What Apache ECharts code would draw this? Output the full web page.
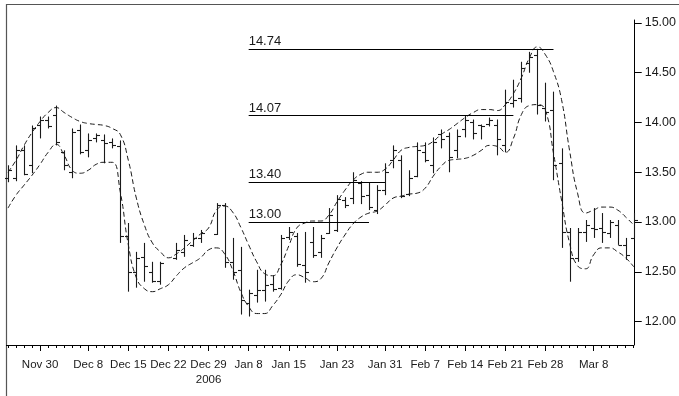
<!DOCTYPE html>
<html><head><meta charset="utf-8">
<script src="https://cdn.jsdelivr.net/npm/echarts@6/dist/echarts.min.js"></script>
<style>html,body{margin:0;padding:0;background:#fff}#c{width:679px;height:396px}</style>
</head><body><div id="c"></div>
<script>
// trading-day slots (79 bars, two holiday gaps)
const dayIndex = Array.from({length: 79}, (_, i) => String(i));
const opens  = [13.44,13.44,13.72,13.57,13.97,14.03,14.08,13.70,13.50,13.92,13.72,13.84,13.82,13.80,13.76,12.86,12.50,12.65,12.50,12.41,null,12.64,12.70,12.77,12.84,null,12.88,13.17,12.60,12.52,12.19,12.27,12.32,12.38,12.34,12.85,12.86,12.57,12.80,12.70,12.89,12.92,13.22,13.24,13.39,13.27,13.12,13.32,13.62,13.62,13.28,13.46,13.70,13.57,13.88,13.86,13.72,13.93,14.01,13.97,13.98,13.97,13.77,14.20,14.25,14.60,14.68,14.15,14.13,13.59,12.90,12.64,12.90,12.94,12.94,12.89,12.97,12.77,12.84];
const highs  = [13.57,13.77,13.77,13.97,14.06,14.06,14.17,13.72,13.94,13.98,13.89,13.89,13.88,13.84,13.82,12.99,12.70,12.79,12.60,12.60,null,12.79,12.87,12.89,12.92,null,13.19,13.19,12.84,12.75,12.32,12.52,12.52,12.46,12.87,12.95,12.89,12.90,12.95,12.87,13.14,13.27,13.25,13.50,13.41,13.40,13.37,13.59,13.77,13.67,13.52,13.80,13.80,13.85,13.93,13.90,13.93,14.07,14.03,13.98,14.05,14.03,14.33,14.43,14.61,14.71,14.74,14.40,14.31,13.74,12.94,12.94,13.02,13.14,13.09,13.02,13.02,12.84,13.09];
const lows   = [13.40,13.41,13.47,13.49,13.84,13.94,13.77,13.52,13.44,13.68,13.65,13.80,13.59,13.74,12.79,12.30,12.34,12.40,12.39,12.37,null,12.62,12.65,12.75,12.79,null,12.87,12.54,12.42,12.07,12.05,12.19,12.20,12.30,12.32,12.82,12.55,12.39,12.64,12.64,12.88,12.90,13.14,13.18,13.18,13.12,13.08,13.27,13.54,13.24,13.26,13.45,13.60,13.49,13.74,13.50,13.64,13.85,13.83,13.83,13.96,13.67,13.70,14.15,14.20,14.50,14.08,14.01,13.42,12.74,12.40,12.60,12.80,12.84,12.79,12.84,12.77,12.62,12.84];
const closes = [13.52,13.72,13.48,13.94,14.03,13.96,13.80,13.57,13.90,13.70,13.82,13.87,13.79,13.77,12.86,12.50,12.64,12.56,12.41,12.59,null,12.72,12.82,12.84,12.89,null,13.17,12.60,12.50,12.22,12.29,12.32,12.37,12.33,12.84,12.90,12.58,12.50,12.67,12.84,13.07,13.23,13.17,13.42,13.26,13.15,13.32,13.50,13.72,13.26,13.44,13.72,13.62,13.80,13.83,13.65,13.86,14.03,13.89,13.96,14.03,13.83,14.21,14.23,14.55,14.66,14.18,14.11,13.57,12.90,12.64,12.90,12.97,12.93,12.90,13.00,12.77,12.67,13.02];
const upperBand = [13.50,13.62,13.77,13.90,14.01,14.10,14.15,14.10,14.05,14.01,13.99,13.98,13.97,13.94,13.88,13.62,13.24,12.97,12.79,12.70,12.64,12.68,12.74,12.81,12.88,12.94,13.12,13.16,13.10,12.95,12.77,12.60,12.48,12.46,12.57,12.76,12.94,12.99,13.01,13.01,13.07,13.20,13.32,13.42,13.48,13.50,13.50,13.53,13.62,13.72,13.75,13.76,13.77,13.81,13.88,13.93,13.99,14.05,14.10,14.13,14.13,14.12,14.18,14.29,14.45,14.65,14.76,14.68,14.51,14.23,13.72,13.29,13.09,13.12,13.15,13.15,13.12,13.05,12.97];
const lowerBand = [13.14,13.27,13.37,13.47,13.58,13.70,13.78,13.67,13.52,13.49,13.52,13.58,13.60,13.60,13.30,12.77,12.44,12.33,12.30,12.33,12.37,12.46,12.54,12.59,12.64,12.72,12.74,12.68,12.52,12.30,12.15,12.08,12.08,12.16,12.27,12.41,12.47,12.44,12.40,12.43,12.59,12.74,12.87,12.98,13.05,13.09,13.11,13.17,13.24,13.26,13.28,13.29,13.34,13.46,13.56,13.62,13.63,13.64,13.67,13.72,13.77,13.76,13.70,13.84,14.08,14.17,14.18,14.12,13.69,13.22,12.79,12.56,12.53,12.67,12.74,12.74,12.70,12.64,12.55];
const levelValues = [14.74, 14.07, 13.40, 13.00];
const levelStart  = [30, 30, 30, 30];
const levelEnd    = [68, 63, 47, 45];
const yTicks = [12.00, 12.50, 13.00, 13.50, 14.00, 14.50, 15.00];
const xLabelIndex = [4, 10, 15, 20, 25, 30, 35, 41, 47, 52, 57, 62, 67, 73];
const xLabelText  = ['Nov 30','Dec 8','Dec 15','Dec 22','Dec 29\n2006','Jan 8','Jan 15','Jan 23','Jan 31','Feb 7','Feb 14','Feb 21','Feb 28','Mar 8'];

const ohlcData = [];
dayIndex.forEach((d, i) => {
  if (opens[i] != null) ohlcData.push([i, opens[i], highs[i], lows[i], closes[i]]);
});

const INK = '#000';
const NARROW = "'Liberation Sans Narrow','Arial Narrow','Liberation Sans',sans-serif";
const SANS = "'Liberation Sans',Arial,Helvetica,sans-serif";

function renderItem(params, api) {
  const i = api.value(0);
  const pO = api.coord([i, api.value(1)]);
  const pH = api.coord([i, api.value(2)]);
  const pL = api.coord([i, api.value(3)]);
  const pC = api.coord([i, api.value(4)]);
  const x = Math.round(pH[0]) + 0.5;
  const yo = Math.round(pO[1]) + 0.5, yc = Math.round(pC[1]) + 0.5;
  const style = { stroke: '#1a1a1a', lineWidth: 1.1 };
  return { type: 'group', children: [
    { type: 'line', shape: { x1: x, y1: pH[1], x2: x, y2: pL[1] }, style },
    { type: 'line', shape: { x1: x - 3.5, y1: yo, x2: x, y2: yo }, style },
    { type: 'line', shape: { x1: x, y1: yc, x2: x + 3.5, y2: yc }, style }
  ]};
}

const chart = echarts.init(document.getElementById('c'), null, { renderer: 'canvas' });
chart.setOption({
  animation: false,
  backgroundColor: '#fff',
  grid: { left: 8, right: 45, top: 20, bottom: 51, containLabel: false },
  xAxis: [{
    type: 'category', data: dayIndex, boundaryGap: false,
    axisLine: { lineStyle: { color: INK, width: 1 } },
    axisTick: { interval: 0, length: 3, lineStyle: { color: INK } },
    axisLabel: {
      interval: (idx) => xLabelIndex.includes(idx),
      formatter: (v, idx) => { const k = xLabelIndex.indexOf(idx); return k >= 0 ? xLabelText[k] : ''; },
      fontSize: 11.5, fontFamily: NARROW, color: '#1a1a1a', margin: 12, lineHeight: 15
    },
    splitLine: { show: false }
  }, {
    type: 'category', data: dayIndex, boundaryGap: false, position: 'bottom',
    axisLine: { show: false },
    axisTick: { interval: (idx) => xLabelIndex.includes(idx), length: 6, lineStyle: { color: INK } },
    axisLabel: { show: false }, splitLine: { show: false }
  }],
  yAxis: {
    type: 'value', position: 'right', min: 11.764, max: 15.03, offset: 1,
    axisLine: { show: true, lineStyle: { color: INK } },
    axisTick: { show: true, length: 7, customValues: yTicks, lineStyle: { color: INK } },
    axisLabel: { customValues: yTicks, formatter: (v) => Number(v).toFixed(2), color: '#1a1a1a', fontSize: 12.5, fontFamily: SANS, margin: 10 },
    splitLine: { show: false }
  },
  graphic: [
    { type: 'line', shape: { x1: 6, y1: 4.5, x2: 679, y2: 4.5 }, style: { stroke: '#555', lineWidth: 1.2 }, silent: true },
    { type: 'line', shape: { x1: 6.5, y1: 4, x2: 6.5, y2: 396 }, style: { stroke: '#555', lineWidth: 1.2 }, silent: true },
    { type: 'line', shape: { x1: 6, y1: 345.5, x2: 9, y2: 345.5 }, style: { stroke: INK, lineWidth: 1 }, silent: true }
  ],
  series: [
    {
      name: 'Upper', type: 'line', data: upperBand, smooth: 0.5, symbol: 'none',
      lineStyle: { color: '#1a1a1a', width: 1, type: [5, 3] }, silent: true,
      markLine: {
        silent: true, symbol: ['none', 'none'], animation: false,
        lineStyle: { color: INK, width: 1, type: 'solid' },
        label: { position: 'insideStartTop', color: '#1a1a1a', fontSize: 13, fontFamily: SANS, distance: [0, 1] },
        emphasis: { disabled: true },
        data: levelValues.map((v, k) => [
          { coord: [levelStart[k], v], label: { formatter: v.toFixed(2) } },
          { coord: [levelEnd[k], v] }
        ])
      }
    },
    {
      name: 'Lower', type: 'line', data: lowerBand, smooth: 0.5, symbol: 'none',
      lineStyle: { color: '#1a1a1a', width: 1, type: [5, 3] }, silent: true
    },
    {
      name: 'OHLC', type: 'custom', renderItem: renderItem, data: ohlcData,
      encode: { x: 0, y: [1, 2, 3, 4] }, silent: true
    }
  ]
});
</script>
</body></html>
